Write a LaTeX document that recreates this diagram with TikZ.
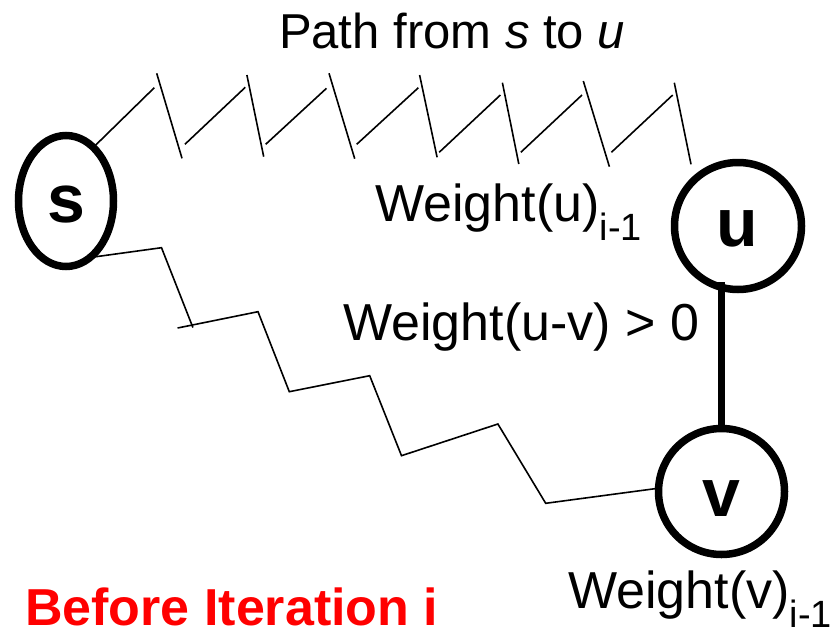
\documentclass[tikz,border=0pt]{standalone}
\usepackage{fontspec}
\setmainfont{Liberation Sans}
\usetikzlibrary{shapes.geometric}
\newcommand\lowsub[1]{\raisebox{-19pt}{\fontsize{38}{38}\selectfont #1}}
\begin{document}
\begin{tikzpicture}[x=1pt,y=-1pt,
  vertex/.style={draw, line width=7.5pt, inner sep=0pt, outer sep=0pt},
  vname/.style={inner sep=0pt, font=\fontsize{68}{68}\selectfont\bfseries},
  zig/.style={line width=1.6pt},
  edgeline/.style={line width=7.5pt},
  lab/.style={inner sep=0pt, font=\fontsize{52}{52}\selectfont},
  titlelab/.style={inner sep=0pt, font=\fontsize{49}{49}\selectfont},
  redlab/.style={inner sep=0pt, text=red, font=\fontsize{52}{52}\selectfont\bfseries}]
\useasboundingbox (0,0) rectangle (838,629);

% vertices
\node[vertex, ellipse, minimum width=95pt, minimum height=131pt] (s) at (66,201) {};
\node[vertex, circle, minimum size=127pt] (u) at (738,226) {};
\node[vertex, circle, minimum size=126pt] (v) at (721.5,491.5) {};
\node[vname] (sT) at (66.7,205) {s};
\node[vname] (uT) at (737,228.5) {u};
\node[vname] (vT) at (721.5,498.3) {v};

% path from s to u (broken zigzag)
\coordinate (zEnd) at (691,164.3);
\draw[zig] (s.63) -- (154.3,87.7);
\draw[zig] (156.7,73.3) -- (182,158.3);
\draw[zig] (184.9,144.3) -- (245.3,87.3);
\draw[zig] (246.9,75) -- (263.7,156.7);
\draw[zig] (265.7,144.3) -- (326.5,88.3);
\draw[zig] (329,73.3) -- (354.7,158.7);
\draw[zig] (356.7,144.3) -- (418.4,87.7);
\draw[zig] (419.6,75) -- (437.1,157.3);
\draw[zig] (439.2,152.3) -- (500.4,95);
\draw[zig] (502.4,82.7) -- (518.8,164);
\draw[zig] (520.8,152.3) -- (582,95);
\draw[zig] (583.3,81) -- (609.4,166.7);
\draw[zig] (611.4,152.3) -- (672.7,95);
\draw[zig] (674.3,82.7) -- (zEnd);

% path from s to v
\draw[zig] (s.-67) -- (161.5,247.7) -- (192.9,327.5);
\draw[zig] (177.6,328) -- (258,311.7) -- (289.3,391.7) -- (369.7,375.7)
  -- (401.5,455.7) -- (497.9,424) -- (545.7,503.3) -- (v.177);

% edge u-v
\draw[edgeline] (v.north) -- ([yshift=7.5pt]v.north |- u.south);

% labels
\node[titlelab, anchor=base] (title) at (452,48) {Path from \textit{s} to \textit{u}};
\node[lab, anchor=base west] (wu) at (375,221) {Weight(u)\lowsub{i-1}};
\node[lab, anchor=base west] (wuv) at (343,340) {Weight(u-v) > 0};
\node[lab, anchor=base west] (wv) at (568,608) {Weight(v)\lowsub{i-1}};
\node[redlab, anchor=base west] (before) at (25,625) {Before Iteration i};
\end{tikzpicture}
\end{document}
